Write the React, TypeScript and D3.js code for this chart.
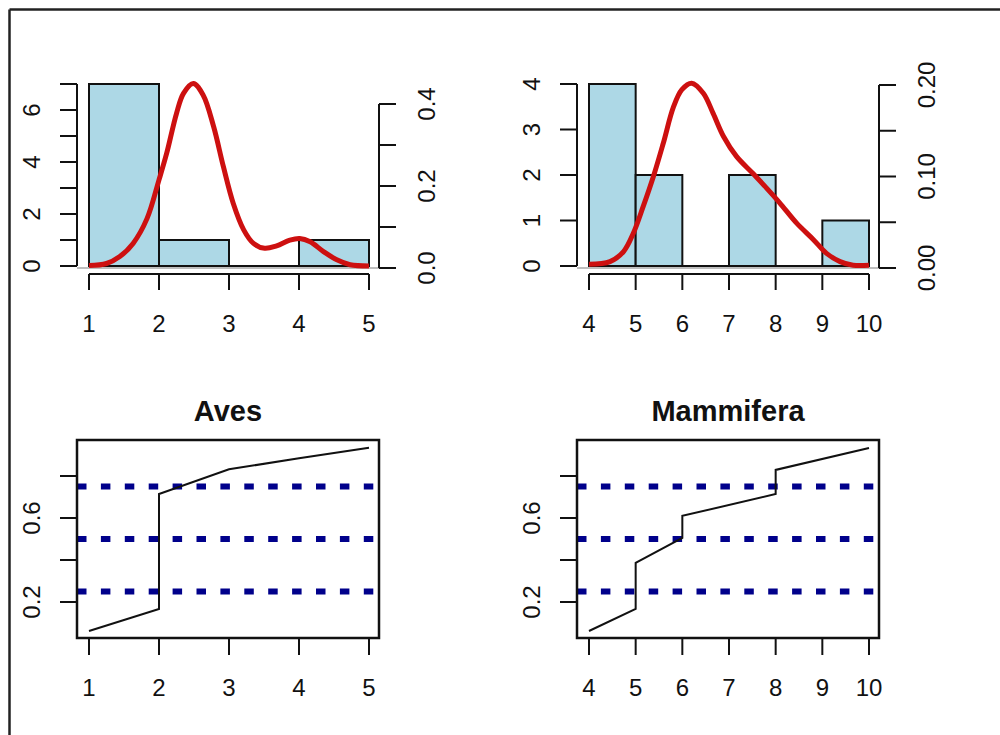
import React from "react";
import * as d3 from "d3";

// ---------- DATA ----------
const avesBreaks = [1, 2, 3, 4, 5];
const avesCounts = [7, 1, 0, 1];
const avesCountTicks = [0, 1, 2, 3, 4, 5, 6, 7];
const avesCountLabels = [0, 2, 4, 6];
const avesXTicks = [1, 2, 3, 4, 5];
const avesDensTicks = [0, 0.1, 0.2, 0.3, 0.4];
const avesDensLabels = ["0.0", "0.2", "0.4"];
const avesDensX = [1.0, 1.25, 1.44, 1.63, 1.83, 2.0, 2.11, 2.25, 2.35, 2.49, 2.63, 2.78, 2.92, 3.06, 3.21, 3.35, 3.51, 3.68, 3.87, 4.01, 4.16, 4.35, 4.54, 4.73, 5.0];
const avesDensY = [0.006, 0.011, 0.028, 0.06, 0.121, 0.215, 0.28, 0.377, 0.426, 0.45, 0.422, 0.345, 0.247, 0.158, 0.093, 0.06, 0.048, 0.054, 0.068, 0.072, 0.064, 0.04, 0.02, 0.008, 0.005];

const mammBreaks = [4, 5, 6, 7, 8, 9, 10];
const mammCounts = [4, 2, 0, 2, 0, 1];
const mammCountTicks = [0, 1, 2, 3, 4];
const mammCountLabels = [0, 1, 2, 3, 4];
const mammXTicks = [4, 5, 6, 7, 8, 9, 10];
const mammDensTicks = [0, 0.05, 0.1, 0.15, 0.2];
const mammDensLabels = ["0.00", "0.10", "0.20"];
const mammDensX = [4.0, 4.45, 4.74, 4.95, 5.16, 5.38, 5.59, 5.81, 5.99, 6.2, 6.45, 6.66, 6.88, 7.16, 7.52, 7.81, 8.09, 8.45, 8.81, 9.09, 9.38, 9.66, 10.0];
const mammDensY = [0.004, 0.007, 0.018, 0.038, 0.067, 0.1, 0.136, 0.176, 0.195, 0.202, 0.191, 0.169, 0.144, 0.122, 0.103, 0.087, 0.071, 0.049, 0.031, 0.016, 0.007, 0.003, 0.003];

const avesEcdfX = [1, 2, 2, 3, 4, 5];
const avesEcdfY = [0.062, 0.167, 0.714, 0.832, 0.884, 0.935];
const mammEcdfX = [4, 5, 5, 6, 6, 8, 8, 10];
const mammEcdfY = [0.062, 0.167, 0.386, 0.505, 0.61, 0.714, 0.829, 0.933];

const ecdfYTicks = [0.2, 0.4, 0.6, 0.8];
const ecdfYLabels = ["0.2", "0.6"];
const quartileLines = [0.25, 0.5, 0.75];

const titles = ["Aves", "Mammifera"];

// ---------- STYLE ----------
const FONT = "'Liberation Sans', Arial, Helvetica, sans-serif";
const TICK_FS = 24;
const TITLE_FS = 29;
const INK = "#111";

type HistProps = {
  ox: number;
  breaks: number[];
  counts: number[];
  countTicks: number[];
  countLabels: number[];
  xTicks: number[];
  densTicks: number[];
  densLabels: string[];
  densMax: number;
  densX: number[];
  densY: number[];
};

function HistPanel(p: HistProps) {
  const left = p.ox + 77;
  const right = p.ox + 379;
  const x = d3.scaleLinear().domain([p.breaks[0], p.breaks[p.breaks.length - 1]]).range([p.ox + 89, p.ox + 369]);
  const cMax = p.countTicks[p.countTicks.length - 1];
  const yc = d3.scaleLinear().domain([0, cMax]).range([266, 84]);
  const yd = d3.scaleLinear().domain([0, p.densMax]).range([268, 268 - p.densMax * (164 / 0.4) * (p.densMax === 0.4 ? 1 : 0) - (p.densMax === 0.4 ? 0 : 183)]);
  const line = d3.line<number>()
    .x((_, i) => x(p.densX[i]))
    .y((d) => yd(d))
    .curve(d3.curveCatmullRom.alpha(0.5));
  const xAxisY = 274;
  return (
    <g>
      {/* bars */}
      {p.counts.map((c, i) => (
        c > 0 ? (
          <rect key={i} x={x(p.breaks[i])} y={yc(c)} width={x(p.breaks[i + 1]) - x(p.breaks[i])} height={yc(0) - yc(c)}
            fill="#ADD8E6" stroke={INK} strokeWidth={2} />
        ) : (
          <line key={i} x1={x(p.breaks[i])} x2={x(p.breaks[i + 1])} y1={yc(0)} y2={yc(0)} stroke={INK} strokeWidth={2} />
        )
      ))}
      {/* left count axis */}
      <line x1={left} x2={left} y1={yc(0)} y2={yc(cMax)} stroke={INK} strokeWidth={2} />
      {p.countTicks.map((t) => (
        <line key={"ct" + t} x1={left} x2={left - 17} y1={yc(t)} y2={yc(t)} stroke={INK} strokeWidth={2} />
      ))}
      {p.countLabels.map((t) => (
        <text key={"cl" + t} transform={`translate(${p.ox + 40},${yc(t)}) rotate(-90)`} textAnchor="middle"
          fontFamily={FONT} fontSize={TICK_FS} fill={INK}>{t}</text>
      ))}
      {/* bottom x axis */}
      <line x1={x(p.xTicks[0])} x2={x(p.xTicks[p.xTicks.length - 1])} y1={xAxisY} y2={xAxisY} stroke={INK} strokeWidth={2} />
      {p.xTicks.map((t) => (
        <g key={"xt" + t}>
          <line x1={x(t)} x2={x(t)} y1={xAxisY} y2={xAxisY + 16} stroke={INK} strokeWidth={2} />
          <text x={x(t)} y={332} textAnchor="middle" fontFamily={FONT} fontSize={TICK_FS} fill={INK}>{t}</text>
        </g>
      ))}
      {/* density zero line */}
      <line x1={left} x2={right} y1={yd(0)} y2={yd(0)} stroke="#BEBEBE" strokeWidth={2} />
      {/* density curve */}
      <path d={line(p.densY) || ""} fill="none" stroke="#CD1010" strokeWidth={5} strokeLinejoin="round" />
      {/* right density axis */}
      <line x1={right} x2={right} y1={yd(0)} y2={yd(p.densMax)} stroke={INK} strokeWidth={2} />
      {p.densTicks.map((t) => (
        <line key={"dt" + t} x1={right} x2={right + 17} y1={yd(t)} y2={yd(t)} stroke={INK} strokeWidth={2} />
      ))}
      {p.densLabels.map((t) => (
        <text key={"dl" + t} transform={`translate(${right + 56},${yd(+t)}) rotate(-90)`} textAnchor="middle"
          fontFamily={FONT} fontSize={TICK_FS} fill={INK}>{t}</text>
      ))}
    </g>
  );
}

type EcdfProps = {
  ox: number;
  title: string;
  xTicks: number[];
  ex: number[];
  ey: number[];
};

function EcdfPanel(p: EcdfProps) {
  const left = p.ox + 77;
  const right = p.ox + 379;
  const top = 440;
  const bottom = 638;
  const x = d3.scaleLinear().domain([p.xTicks[0], p.xTicks[p.xTicks.length - 1]]).range([p.ox + 89, p.ox + 369]);
  const y = d3.scaleLinear().domain([0.2, 0.8]).range([602, 476]);
  const line = d3.line<number>().x((_, i) => x(p.ex[i])).y((d) => y(d));
  return (
    <g>
      <text x={(left + right) / 2} y={421} textAnchor="middle" fontFamily={FONT} fontSize={TITLE_FS}
        fontWeight="bold" fill={INK}>{p.title}</text>
      {quartileLines.map((q) => (
        <line key={"q" + q} x1={left} x2={right - 4} y1={y(q)} y2={y(q)} stroke="#00008B" strokeWidth={6}
          strokeDasharray="9.5 14.4" />
      ))}
      <path d={line(p.ey) || ""} fill="none" stroke={INK} strokeWidth={2} />
      <rect x={left} y={top} width={right - left} height={bottom - top} fill="none" stroke={INK} strokeWidth={2.5} />
      {ecdfYTicks.map((t) => (
        <line key={"yt" + t} x1={left} x2={left - 17} y1={y(t)} y2={y(t)} stroke={INK} strokeWidth={2} />
      ))}
      {ecdfYLabels.map((t) => (
        <text key={"yl" + t} transform={`translate(${p.ox + 40},${y(+t)}) rotate(-90)`} textAnchor="middle"
          fontFamily={FONT} fontSize={TICK_FS} fill={INK}>{t}</text>
      ))}
      {p.xTicks.map((t) => (
        <g key={"xt" + t}>
          <line x1={x(t)} x2={x(t)} y1={bottom} y2={bottom + 17} stroke={INK} strokeWidth={2} />
          <text x={x(t)} y={696} textAnchor="middle" fontFamily={FONT} fontSize={TICK_FS} fill={INK}>{t}</text>
        </g>
      ))}
    </g>
  );
}

export default function App() {
  return (
    <svg width={1000} height={735} style={{ position: "absolute", left: 0, top: 0, background: "#fff" }}>
      <rect x={0} y={0} width={1000} height={735} fill="#fff" />
      <line x1={9.5} x2={1000} y1={9.5} y2={9.5} stroke="#222" strokeWidth={2.5} />
      <line x1={9.5} x2={9.5} y1={9.5} y2={735} stroke="#222" strokeWidth={2.5} />
      <HistPanel ox={0} breaks={avesBreaks} counts={avesCounts} countTicks={avesCountTicks}
        countLabels={avesCountLabels} xTicks={avesXTicks} densTicks={avesDensTicks} densLabels={avesDensLabels}
        densMax={0.4} densX={avesDensX} densY={avesDensY} />
      <HistPanel ox={500} breaks={mammBreaks} counts={mammCounts} countTicks={mammCountTicks}
        countLabels={mammCountLabels} xTicks={mammXTicks} densTicks={mammDensTicks} densLabels={mammDensLabels}
        densMax={0.2} densX={mammDensX} densY={mammDensY} />
      <EcdfPanel ox={0} title={titles[0]} xTicks={avesXTicks} ex={avesEcdfX} ey={avesEcdfY} />
      <EcdfPanel ox={500} title={titles[1]} xTicks={mammXTicks} ex={mammEcdfX} ey={mammEcdfY} />
    </svg>
  );
}
